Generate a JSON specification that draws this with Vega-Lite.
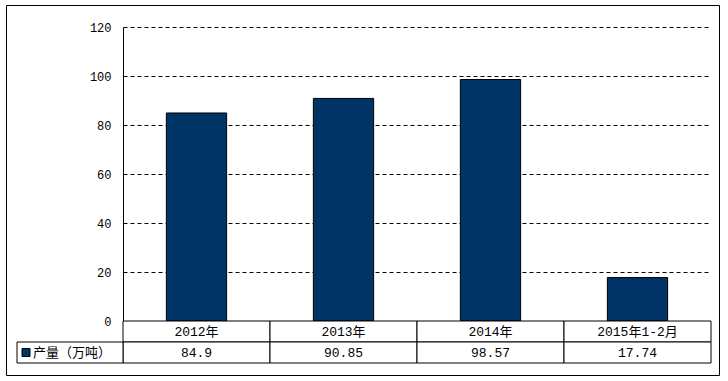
{
  "$schema": "https://vega.github.io/schema/vega-lite/v6.json",
  "width": 713,
  "height": 370,
  "autosize": {"type": "none"},
  "padding": {"left": 6, "top": 5, "right": 9, "bottom": 6},
  "background": "white",
  "config": {
    "view": {"stroke": "black", "strokeWidth": 1},
    "font": "Liberation Mono, Noto Sans CJK SC"
  },
  "datasets": {
    "prod": [
      {"cat": "2012年", "value": 84.9},
      {"cat": "2013年", "value": 90.85},
      {"cat": "2014年", "value": 98.57},
      {"cat": "2015年1-2月", "value": 17.74}
    ],
    "legend": [{"series": "产量（万吨）"}]
  },
  "layer": [
    {
      "data": {"name": "prod"},
      "mark": {"type": "bar", "fill": "#003366", "stroke": "#000000", "strokeWidth": 1, "width": {"band": 0.41}},
      "encoding": {
        "x": {
          "field": "cat", "type": "nominal", "sort": null,
          "scale": {"domain": ["2012年", "2013年", "2014年", "2015年1-2月"], "range": [117, 705], "paddingInner": 0, "paddingOuter": 0},
          "axis": null
        },
        "y": {
          "field": "value", "type": "quantitative",
          "scale": {"domain": [0, 120], "range": [316, 22], "nice": false, "zero": true},
          "axis": {
            "values": [0, 20, 40, 60, 80, 100, 120],
            "title": null,
            "offset": -117,
            "grid": true,
            "gridColor": "#000000",
            "gridOpacity": 1,
            "gridDash": [4, 3],
            "gridWidth": 1,
            "domain": true,
            "domainColor": "#000000",
            "domainWidth": 1,
            "ticks": false,
            "labelPadding": 12,
            "labelFont": "Liberation Mono, Noto Sans CJK SC",
            "labelFontSize": 12,
            "labelColor": "#000000"
          }
        }
      }
    },
    {
      "data": {"name": "prod"},
      "encoding": {
        "x": {
          "field": "cat", "type": "nominal", "sort": null,
          "scale": {"domain": ["2012年", "2013年", "2014年", "2015年1-2月"], "range": [117, 705], "paddingInner": 0, "paddingOuter": 0},
          "axis": null
        }
      },
      "layer": [
        {
          "mark": {"type": "rect", "fill": "white", "stroke": "#000000", "strokeWidth": 1},
          "encoding": {
            "y": {"datum": "label", "type": "nominal", "scale": {"domain": ["label", "value"], "range": [316, 358], "paddingInner": 0, "paddingOuter": 0}, "axis": null}
          }
        },
        {
          "mark": {"type": "rect", "fill": "white", "stroke": "#000000", "strokeWidth": 1},
          "encoding": {
            "y": {"datum": "value", "type": "nominal", "scale": {"domain": ["label", "value"], "range": [316, 358], "paddingInner": 0, "paddingOuter": 0}, "axis": null}
          }
        },
        {
          "mark": {"type": "text", "fontSize": 13, "color": "#000000", "font": "Liberation Mono, Noto Sans CJK SC"},
          "encoding": {
            "y": {"datum": "label", "type": "nominal", "scale": {"domain": ["label", "value"], "range": [316, 358], "paddingInner": 0, "paddingOuter": 0}, "axis": null},
            "text": {"field": "cat", "type": "nominal"}
          }
        },
        {
          "mark": {"type": "text", "fontSize": 13, "color": "#000000", "font": "Liberation Mono, Noto Sans CJK SC"},
          "encoding": {
            "y": {"datum": "value", "type": "nominal", "scale": {"domain": ["label", "value"], "range": [316, 358], "paddingInner": 0, "paddingOuter": 0}, "axis": null},
            "text": {"field": "value", "type": "nominal"}
          }
        }
      ]
    },
    {
      "data": {"name": "legend"},
      "layer": [
        {
          "mark": {"type": "rect", "fill": "white", "stroke": "#000000", "strokeWidth": 1},
          "encoding": {
            "x": {"field": "series", "type": "nominal", "scale": {"range": [11, 117], "paddingInner": 0, "paddingOuter": 0}, "axis": null},
            "y": {"datum": "value", "type": "nominal", "scale": {"domain": ["label", "value"], "range": [316, 358], "paddingInner": 0, "paddingOuter": 0}, "axis": null}
          }
        },
        {
          "mark": {"type": "point", "shape": "square", "filled": true, "fill": "#003366", "stroke": "#000000", "strokeWidth": 1, "size": 64, "opacity": 1, "xOffset": 9},
          "encoding": {
            "x": {"field": "series", "type": "nominal", "bandPosition": 0, "scale": {"range": [11, 117], "paddingInner": 0, "paddingOuter": 0}, "axis": null},
            "y": {"datum": "value", "type": "nominal", "scale": {"domain": ["label", "value"], "range": [316, 358], "paddingInner": 0, "paddingOuter": 0}, "axis": null}
          }
        },
        {
          "mark": {"type": "text", "align": "left", "dx": 16, "fontSize": 13, "color": "#000000", "font": "Liberation Mono, Noto Sans CJK SC"},
          "encoding": {
            "x": {"field": "series", "type": "nominal", "bandPosition": 0, "scale": {"range": [11, 117], "paddingInner": 0, "paddingOuter": 0}, "axis": null},
            "y": {"datum": "value", "type": "nominal", "scale": {"domain": ["label", "value"], "range": [316, 358], "paddingInner": 0, "paddingOuter": 0}, "axis": null},
            "text": {"field": "series", "type": "nominal"}
          }
        }
      ],
      "resolve": {"scale": {"x": "shared", "y": "shared"}}
    }
  ],
  "resolve": {"scale": {"x": "independent", "y": "independent"}}
}
